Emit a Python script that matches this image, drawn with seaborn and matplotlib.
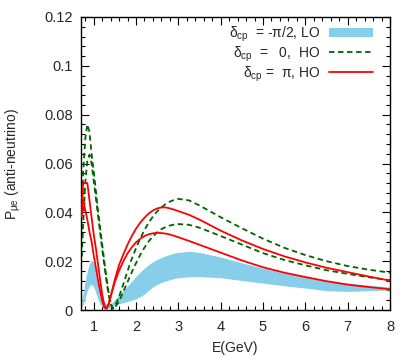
import matplotlib
matplotlib.use("Agg")
import matplotlib.pyplot as plt
import seaborn as sns
import numpy as np
import pandas as pd
from matplotlib.patches import Patch
from matplotlib.lines import Line2D
from matplotlib.ticker import MultipleLocator

# ---------------- data ----------------
energy = [0.72, 0.75, 0.8, 0.85, 0.9, 0.95, 1.0, 1.05, 1.1, 1.15, 1.2, 1.25, 1.3,
          1.35, 1.4, 1.45, 1.5, 1.6, 1.7, 1.8, 1.9, 2.0, 2.1, 2.2, 2.3, 2.4, 2.5,
          2.6, 2.7, 2.8, 2.9, 3.0, 3.25, 3.5, 4.0, 4.5, 5.0, 5.5, 6.0, 6.5, 7.0,
          7.5, 8.0]

# delta_cp = -pi/2, LO  (band)
band_hi = [0.004, 0.007, 0.012, 0.016, 0.019, 0.0205, 0.0195, 0.0165, 0.0125, 0.0085,
           0.0055, 0.0035, 0.0025, 0.0022, 0.0025, 0.0032, 0.0042, 0.0062, 0.008, 0.0098,
           0.0118, 0.0138, 0.0156, 0.0172, 0.0186, 0.0198, 0.0207, 0.0215, 0.0222, 0.0228,
           0.0233, 0.0236, 0.024, 0.0236, 0.0217, 0.0193, 0.0171, 0.0152, 0.0135, 0.0121,
           0.011, 0.0101, 0.0094]
band_lo = [0.001, 0.002, 0.005, 0.008, 0.010, 0.0105, 0.0095, 0.007, 0.0045, 0.0025,
           0.0012, 0.0006, 0.0005, 0.0008, 0.0012, 0.0016, 0.002, 0.0026, 0.003, 0.0035,
           0.004, 0.0046, 0.0055, 0.0066, 0.0081, 0.0095, 0.0105, 0.0113, 0.0119, 0.0124,
           0.0129, 0.0132, 0.0136, 0.0137, 0.0132, 0.0121, 0.011, 0.0099, 0.009, 0.0079,
           0.0076, 0.0079, 0.0082]

# delta_cp = 0, HO (two edges)
green_hi = [0.040, 0.056, 0.070, 0.076, 0.073, 0.064, 0.057, 0.049, 0.041, 0.034,
            0.027, 0.020, 0.0135, 0.0075, 0.003, 0.0005, 0.0015, 0.0055, 0.0105, 0.016,
            0.021, 0.0253, 0.0293, 0.0328, 0.0358, 0.0383, 0.0404, 0.042, 0.0434, 0.0444,
            0.0451, 0.0455, 0.0449, 0.0428, 0.038, 0.0335, 0.0292, 0.0255, 0.0225, 0.0200,
            0.018, 0.0165, 0.0153]
green_lo = [0.022, 0.035, 0.052, 0.061, 0.0636, 0.060, 0.053, 0.046, 0.039, 0.032,
            0.025, 0.0185, 0.012, 0.0065, 0.0025, 0.0005, 0.001, 0.0035, 0.0075, 0.0115,
            0.0155, 0.0192, 0.0226, 0.0256, 0.0281, 0.0302, 0.0318, 0.0331, 0.034, 0.0346,
            0.035, 0.0352, 0.0349, 0.0337, 0.0303, 0.0268, 0.0233, 0.0205, 0.0183, 0.0163,
            0.0148, 0.0134, 0.0122]

# delta_cp = pi, HO (two edges)
red_hi = [0.038, 0.052, 0.052, 0.052, 0.045, 0.038, 0.031, 0.0255, 0.019, 0.0125,
          0.0065, 0.002, 0.0005, 0.002, 0.0055, 0.009, 0.0125, 0.0185, 0.0228, 0.0268,
          0.0303, 0.0333, 0.0358, 0.0378, 0.0395, 0.0408, 0.0416, 0.042, 0.042, 0.0416,
          0.0411, 0.0405, 0.039, 0.037, 0.0325, 0.0285, 0.025, 0.022, 0.0195, 0.0173,
          0.0155, 0.0137, 0.012]
red_lo = [0.046, 0.045, 0.041, 0.037, 0.032, 0.028, 0.0225, 0.0175, 0.0125, 0.008,
          0.004, 0.001, 0.0005, 0.0025, 0.0055, 0.0085, 0.0115, 0.0162, 0.0200, 0.0232,
          0.0257, 0.0277, 0.0292, 0.0303, 0.0310, 0.0314, 0.0316, 0.0315, 0.0313, 0.0309,
          0.0304, 0.0298, 0.0283, 0.0267, 0.0235, 0.0203, 0.0175, 0.0153, 0.0135, 0.0118,
          0.0104, 0.0094, 0.0085]

labels = ["δ$_{\\rm cp}$  = -π/2, LO", "δ$_{\\rm cp}$  =   0,  HO", "δ$_{\\rm cp}$ =  π, HO"]
x_label = "E(GeV)"
y_label = "P$_{\\rm μe}$ (anti-neutrino)"

# ---------------- style ----------------
sns.set_style("ticks")
plt.rcParams["font.family"] = ["Liberation Sans", "DejaVu Sans"]
plt.rcParams["mathtext.fontset"] = "custom"
plt.rcParams["mathtext.rm"] = "Liberation Sans"
plt.rcParams["mathtext.it"] = "Liberation Sans:italic"
plt.rcParams["mathtext.bf"] = "Liberation Sans:bold"

BLUE = "#87ceeb"
GREEN = "#006400"
RED = "#ff0000"

df = pd.DataFrame({"E": energy, "band_hi": band_hi, "band_lo": band_lo,
                   "green_hi": green_hi, "green_lo": green_lo,
                   "red_hi": red_hi, "red_lo": red_lo})

fig = plt.figure(figsize=(4.15, 3.57), dpi=100)
ax = fig.add_axes([81 / 415, 1 - 310 / 357, 309 / 415, 293 / 357])

ax.fill_between(df["E"], df["band_lo"], df["band_hi"], color=BLUE, lw=0, zorder=1)

for col in ["green_hi", "green_lo"]:
    sns.lineplot(data=df, x="E", y=col, ax=ax, color=GREEN, lw=1.3,
                 estimator=None, sort=False, zorder=2)
for line in ax.get_lines():
    line.set_dashes((3.0, 2.0))
for col in ["red_hi", "red_lo"]:
    sns.lineplot(data=df, x="E", y=col, ax=ax, color=RED, lw=1.3,
                 estimator=None, sort=False, zorder=3)

ax.set_xlim(0.7, 8)
ax.set_ylim(0, 0.12)
ax.xaxis.set_major_locator(MultipleLocator(1))
ax.xaxis.set_minor_locator(MultipleLocator(0.2))
ax.yaxis.set_major_locator(MultipleLocator(0.02))
ax.yaxis.set_minor_locator(MultipleLocator(0.004))


def yfmt(v, pos):
    if abs(v) < 1e-12:
        return "0"
    return f"{v:.2f}".rstrip("0")


ax.yaxis.set_major_formatter(plt.FuncFormatter(yfmt))
ax.tick_params(which="both", direction="in", top=True, right=True,
               labelsize=10.5, width=0.8, color="black")
ax.tick_params(axis="y", which="major", length=6, pad=6)
ax.tick_params(axis="x", which="major", length=6, pad=7)
ax.tick_params(which="minor", length=3)
for sp in ax.spines.values():
    sp.set_linewidth(1.0)
    sp.set_color("black")

ax.set_xlabel(x_label, fontsize=10, labelpad=5)
ax.set_ylabel(y_label, fontsize=10, labelpad=15)

handles = [Patch(facecolor=BLUE, edgecolor="none"),
           Line2D([], [], color=GREEN, lw=1.3, dashes=(3.0, 2.0)),
           Line2D([], [], color=RED, lw=1.3)]
ax.legend(handles=handles, labels=labels, loc="upper right",
          bbox_to_anchor=(0.945, 0.975), frameon=False, markerfirst=False,
          fontsize=10, handlelength=3.2, handletextpad=0.6, labelspacing=0.05,
          borderpad=0, borderaxespad=0)

fig.savefig("out.png", dpi=100)
